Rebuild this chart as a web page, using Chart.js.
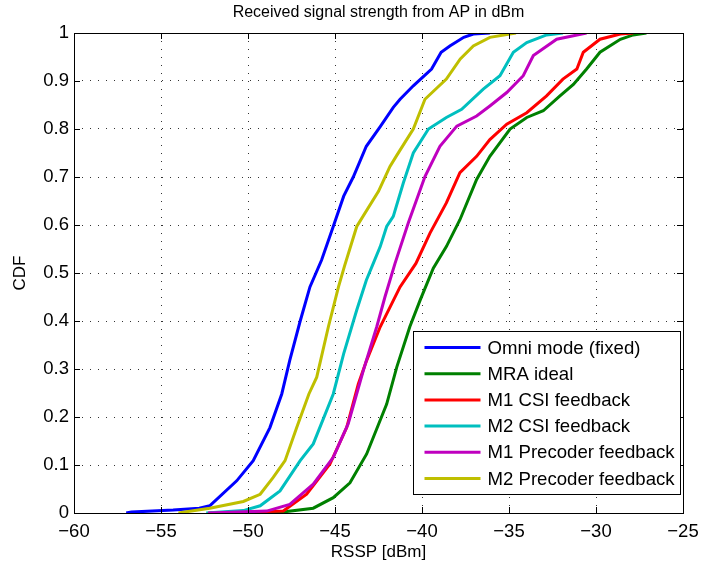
<!DOCTYPE html>
<html lang="en">
<head>
    <meta charset="UTF-8">
    <title>Received signal strength CDF</title>
    <script src="https://cdn.jsdelivr.net/npm/chart.js"></script>
    <style>
        html, body {
            margin: 0;
            padding: 0;
            background: #ffffff;
        }
        #wrap {
            width: 701px;
            height: 571px;
        }
    </style>
</head>
<body>
<div id="wrap">
    <canvas id="cdf-chart" width="701" height="571"></canvas>
</div>

<script>
    const chartTitle = 'Received signal strength from AP in dBm';
    const xTitle = 'RSSP [dBm]';
    const yTitle = 'CDF';
    const xTicks = [-60, -55, -50, -45, -40, -35, -30, -25];
    const yTicks = [0, 0.1, 0.2, 0.3, 0.4, 0.5, 0.6, 0.7, 0.8, 0.9, 1];

    const seriesNames = ['Omni mode (fixed)', 'MRA ideal', 'M1 CSI feedback',
        'M2 CSI feedback', 'M1 Precoder feedback', 'M2 Precoder feedback'];
    const seriesColors = ['#0000ff', '#008000', '#ff0000', '#00bfbf', '#bf00bf', '#bfbf00'];

    const omniX = [-57.0, -56.7, -54.3, -52.8, -52.2, -50.65, -49.7, -48.74, -48.06, -47.6, -47.0, -46.44,
        -45.77, -45.1, -44.5, -43.95, -43.2, -42.4, -41.65, -41.26, -40.5, -39.45, -38.9, -38.4, -37.6, -37.05, -36.1];
    const omniY = [0, 0.002, 0.006, 0.01, 0.015, 0.067, 0.109, 0.178, 0.248, 0.318, 0.40, 0.471,
        0.527, 0.597, 0.66, 0.70, 0.764, 0.805, 0.845, 0.862, 0.89, 0.925, 0.96, 0.973, 0.991, 0.998, 1.0];

    const mraX = [-50.1, -47.78, -46.25, -45.1, -44.14, -43.18, -42.03, -41.45, -40.7, -40.1, -39.35, -38.6,
        -37.82, -36.86, -36.1, -34.94, -33.98, -33.03, -32.07, -31.3, -30.54, -29.77, -28.6, -27.86, -27.1];
    const mraY = [0, 0.003, 0.01, 0.032, 0.063, 0.123, 0.227, 0.304, 0.388, 0.444, 0.51, 0.555,
        0.611, 0.695, 0.743, 0.80, 0.824, 0.838, 0.869, 0.893, 0.925, 0.96, 0.987, 0.996, 1.0];

    const m1CsiX = [-52.2, -47.97, -46.63, -45.29, -44.33, -43.66, -43.18, -42.4, -41.26, -40.35, -39.54, -38.6,
        -37.82, -36.86, -36.1, -35.13, -33.98, -32.84, -31.9, -31.1, -30.73, -29.77, -28.6, -27.86];
    const m1CsiY = [0, 0.004, 0.039, 0.102, 0.178, 0.269, 0.318, 0.388, 0.471, 0.52, 0.583, 0.646,
        0.709, 0.743, 0.778, 0.81, 0.834, 0.869, 0.904, 0.925, 0.96, 0.987, 0.998, 1.0];

    const m2CsiX = [-52.4, -50.27, -49.3, -48.16, -47.0, -46.25, -45.1, -44.5, -43.75, -43.2, -42.8, -42.4,
        -42.03, -41.65, -41.07, -40.5, -39.63, -38.6, -37.72, -36.48, -35.52, -34.75, -33.98, -32.84, -31.9];
    const m2CsiY = [0, 0.005, 0.015, 0.046, 0.109, 0.144, 0.248, 0.332, 0.423, 0.485, 0.52, 0.555,
        0.597, 0.618, 0.688, 0.75, 0.80, 0.824, 0.841, 0.883, 0.911, 0.96, 0.98, 0.996, 1.0];

    const m1PrecX = [-52.3, -48.93, -47.6, -46.25, -45.1, -44.24, -43.37, -42.6, -42.13, -41.55, -40.79,
        -39.83, -38.97, -38.0, -36.86, -36.1, -35.13, -34.18, -33.6, -32.26, -30.54];
    const m1PrecY = [0, 0.004, 0.018, 0.06, 0.116, 0.186, 0.297, 0.388, 0.45, 0.52, 0.604,
        0.701, 0.764, 0.806, 0.827, 0.848, 0.876, 0.911, 0.953, 0.987, 1.0];

    const m2PrecX = [-54.0, -52.2, -50.27, -49.3, -48.55, -47.87, -47.2, -46.5, -46.05, -45.38, -44.8, -44.45,
        -43.75, -42.5, -41.84, -41.45, -40.5, -39.83, -38.6, -37.8, -37.05, -36.1, -34.6];
    const m2PrecY = [0, 0.01, 0.024, 0.039, 0.074, 0.109, 0.178, 0.248, 0.283, 0.388, 0.471, 0.515,
        0.597, 0.670, 0.722, 0.745, 0.80, 0.862, 0.904, 0.946, 0.973, 0.991, 1.0];

    const seriesX = [omniX, mraX, m1CsiX, m2CsiX, m1PrecX, m2PrecX];
    const seriesY = [omniY, mraY, m1CsiY, m2CsiY, m1PrecY, m2PrecY];

    const FONT = 'Arial, "Liberation Sans", Helvetica, sans-serif';
    const minus = v => String(v).replace('-', '\u2212');

    // matlab style: box, inward ticks, title and axis labels, legend inside
    const matlabFrame = {
        id: 'matlabFrame',
        afterDatasetsDraw(chart) {
            const ctx = chart.ctx;
            const a = chart.chartArea;
            const xs = chart.scales.x, ys = chart.scales.y;
            ctx.save();
            ctx.strokeStyle = '#000';
            ctx.lineWidth = 1;
            ctx.beginPath();
            xTicks.forEach(t => {
                const px = Math.round(xs.getPixelForValue(t)) + 0.5;
                ctx.moveTo(px, a.bottom); ctx.lineTo(px, a.bottom - 6);
                ctx.moveTo(px, a.top); ctx.lineTo(px, a.top + 6);
            });
            yTicks.forEach(t => {
                const py = Math.round(ys.getPixelForValue(t)) + 0.5;
                ctx.moveTo(a.left, py); ctx.lineTo(a.left + 6, py);
                ctx.moveTo(a.right, py); ctx.lineTo(a.right - 6, py);
            });
            ctx.stroke();
            ctx.strokeRect(Math.round(a.left) + 0.5, Math.round(a.top) + 0.5,
                Math.round(a.right - a.left), Math.round(a.bottom - a.top));

            // legend
            ctx.font = '18.6px ' + FONT;
            const textW = Math.max(...seriesNames.map(n => ctx.measureText(n).width));
            const rowH = 26.2;
            const boxR = Math.round(a.right - 3.5) + 0.5;
            const boxB = Math.round(a.bottom - 19.5) + 0.5;
            const boxW = 11 + 56 + 7 + textW + 6;
            const boxH = 33 + rowH * (seriesNames.length - 1);
            const boxL = Math.round(boxR - boxW) + 0.5;
            const boxT = Math.round(boxB - boxH) + 0.5;
            ctx.fillStyle = '#fff';
            ctx.fillRect(boxL, boxT, boxR - boxL, boxB - boxT);
            ctx.strokeRect(boxL, boxT, boxR - boxL, boxB - boxT);
            ctx.textBaseline = 'middle';
            ctx.textAlign = 'left';
            seriesNames.forEach((n, i) => {
                const cy = boxT + 16 + i * rowH;
                ctx.strokeStyle = seriesColors[i];
                ctx.lineWidth = 3;
                ctx.beginPath();
                ctx.moveTo(boxL + 11, cy); ctx.lineTo(boxL + 67, cy);
                ctx.stroke();
                ctx.fillStyle = '#000';
                ctx.fillText(n, boxL + 74, cy + 1);
            });

            // title and axis labels
            ctx.fillStyle = '#000';
            ctx.textAlign = 'center';
            ctx.font = '16px ' + FONT;
            ctx.fillText(chartTitle, (a.left + a.right) / 2, 13);
            ctx.font = '17px ' + FONT;
            ctx.fillText(xTitle, (a.left + a.right) / 2, 552);
            ctx.translate(20, (a.top + a.bottom) / 2);
            ctx.rotate(-Math.PI / 2);
            ctx.fillText(yTitle, 0, 0);
            ctx.restore();
        }
    };

    const datasets = seriesNames.map((name, i) => ({
        label: name,
        data: seriesX[i].map((x, k) => ({ x: x, y: seriesY[i][k] })),
        borderColor: seriesColors[i],
        backgroundColor: seriesColors[i],
        borderWidth: 3,
        pointRadius: 0,
        tension: 0,
        fill: false,
        order: seriesNames.length - i
    }));

    const ctx = document.getElementById('cdf-chart').getContext('2d');
    new Chart(ctx, {
        type: 'line',
        data: { datasets },
        options: {
            responsive: false,
            animation: false,
            layout: { padding: { left: 0, right: 18, top: 33, bottom: 0 } },
            plugins: {
                legend: { display: false },
                tooltip: { enabled: false }
            },
            scales: {
                x: {
                    type: 'linear',
                    min: -60, max: -25,
                    afterBuildTicks: s => { s.ticks = xTicks.map(v => ({ value: v })); },
                    afterFit: s => { s.height = 58; s.paddingLeft = 0; s.paddingRight = 0; },
                    border: { display: false, dash: [1, 7] },
                    grid: { color: '#333', drawTicks: false, lineWidth: 1 },
                    ticks: {
                        color: '#000', padding: 8,
                        font: { family: FONT, size: 18.5 },
                        maxRotation: 0,
                        callback: v => minus(v)
                    }
                },
                y: {
                    type: 'linear',
                    min: 0, max: 1,
                    afterBuildTicks: s => { s.ticks = yTicks.map(v => ({ value: v })); },
                    afterFit: s => { s.width = 74; s.paddingTop = 0; s.paddingBottom = 0; },
                    border: { display: false, dash: [1, 7] },
                    grid: { color: '#333', drawTicks: false, lineWidth: 1 },
                    ticks: {
                        color: '#000', padding: 5,
                        font: { family: FONT, size: 18.5 },
                        callback: v => String(Math.round(v * 10) / 10)
                    }
                }
            }
        },
        plugins: [matlabFrame]
    });
</script>
</body>
</html>
